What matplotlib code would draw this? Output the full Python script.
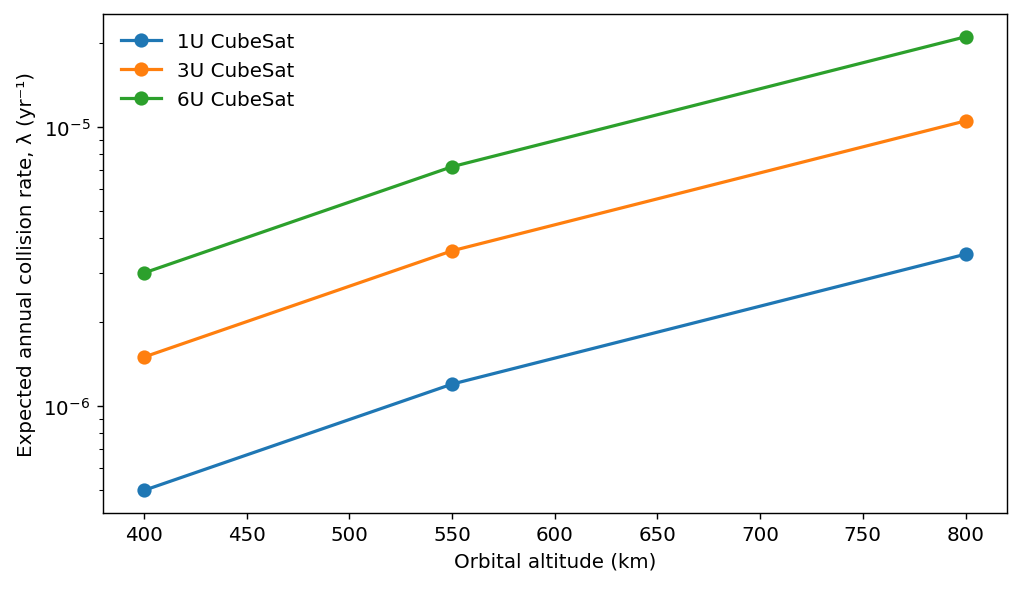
import matplotlib
matplotlib.use("Agg")
import matplotlib.pyplot as plt

# altitudes and expected annual collision rates
altitudes = [400, 550, 800]
rate_1u = [5.0e-7, 1.2e-6, 3.5e-6]
rate_3u = [1.5e-6, 3.6e-6, 1.05e-5]
rate_6u = [3.0e-6, 7.2e-6, 2.1e-5]
series_labels = ["1U CubeSat", "3U CubeSat", "6U CubeSat"]

plt.rcParams["font.size"] = 11.2

fig = plt.figure(figsize=(8, 4.64), dpi=128)
ax = fig.add_axes([0.1006, 0.1347, 0.8824, 0.84])

for vals, lab in zip([rate_1u, rate_3u, rate_6u], series_labels):
    ax.plot(altitudes, vals, marker="o", linewidth=1.8, markersize=7, label=lab)

ax.set_yscale("log")
ax.set_xlabel("Orbital altitude (km)")
ax.set_ylabel("Expected annual collision rate, λ (yr⁻¹)")
ax.legend(frameon=False, loc="upper left")

fig.savefig("out.png", dpi=128)
